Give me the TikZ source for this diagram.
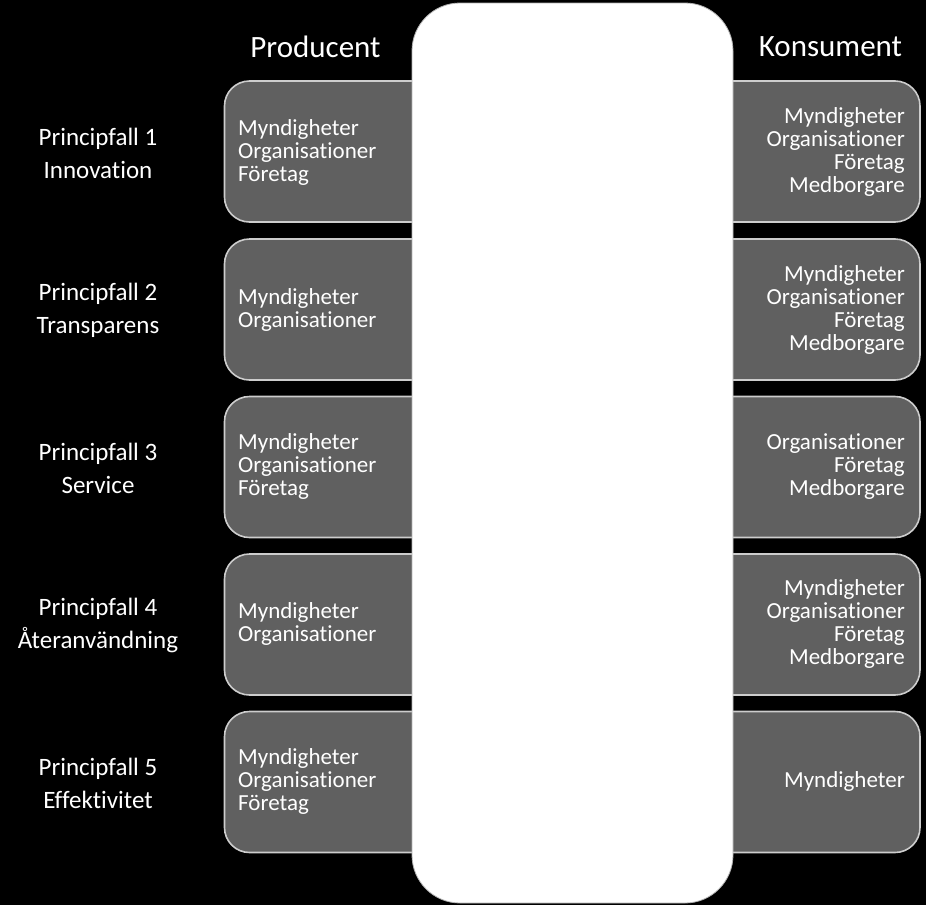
\documentclass[tikz,border=0pt]{standalone}
\usepackage{fontspec}
\setmainfont{Carlito}[Ligatures=NoCommon]
\definecolor{boxgray}{RGB}{96,96,96}
\definecolor{edgegray}{RGB}{205,205,205}
\begin{document}
\begin{tikzpicture}[x=1pt,y=-1pt,
  rowbox/.style={draw=edgegray, line width=1.6pt, fill=boxgray, rounded corners=25pt,
    minimum height=141pt, inner sep=0pt},
  lbox/.style={rowbox, minimum width=235pt},
  rbox/.style={rowbox, minimum width=229pt},
  column/.style={draw=gray!60, line width=0.8pt, fill=white, rounded corners=48pt,
    minimum width=321pt, minimum height=900pt, inner sep=0pt},
  boxtext/.style={text=white, inner sep=0pt, font=\fontsize{23}{23}\selectfont},
  ltext/.style={boxtext, anchor=west, align=left},
  rtext/.style={boxtext, anchor=east, align=right},
  caselabel/.style={text=white, inner sep=0pt, align=center, font=\fontsize{25}{33}\selectfont},
  heading/.style={text=white, inner sep=0pt, font=\fontsize{31}{34}\selectfont}]
\fill[black] (0,0) rectangle (926,905);
\useasboundingbox (0,0) rectangle (926,905);

% row boxes
\node[lbox] (L1) at (342,151.5) {};
\node[lbox] (L2) at (342,309.5) {};
\node[lbox] (L3) at (342,467) {};
\node[lbox] (L4) at (342,624.5) {};
\node[lbox] (L5) at (342,782) {};
\node[rbox] (R1) at (805.5,151.5) {};
\node[rbox] (R2) at (805.5,309.5) {};
\node[rbox] (R3) at (805.5,467) {};
\node[rbox] (R4) at (805.5,624.5) {};
\node[rbox] (R5) at (805.5,782) {};

% central column
\node[column] (C) at (572.5,453) {};

% headings
\node[heading] (hp) at (315.5,47) {Producent};
\node[heading] (hk) at (830.5,47) {Konsument};

% left labels
\node[caselabel] (P1) at (98,153) {Principfall 1\\Innovation};
\node[caselabel] (P2) at (98,310.5) {Principfall 2\\Transparens};
\node[caselabel] (P3) at (98,468) {Principfall 3\\Service};
\node[caselabel] (P4) at (98,625.5) {Principfall 4\\Återanvändning};
\node[caselabel] (P5) at (98,783) {Principfall 5\\Effektivitet};

% producer texts
\node[ltext] (LT1) at (238,152) {Myndigheter\\Organisationer\\Företag};
\node[ltext] (LT2) at (238,309.5) {Myndigheter\\Organisationer};
\node[ltext] (LT3) at (238,466.5) {Myndigheter\\Organisationer\\Företag};
\node[ltext] (LT4) at (238,623.5) {Myndigheter\\Organisationer};
\node[ltext] (LT5) at (238,781.5) {Myndigheter\\Organisationer\\Företag};

% consumer texts
\node[rtext] (RT1) at (905,152) {Myndigheter\\Organisationer\\Företag\\Medborgare};
\node[rtext] (RT2) at (905,309.5) {Myndigheter\\Organisationer\\Företag\\Medborgare};
\node[rtext] (RT3) at (905,466.5) {Organisationer\\Företag\\Medborgare};
\node[rtext] (RT4) at (905,623.5) {Myndigheter\\Organisationer\\Företag\\Medborgare};
\node[rtext] (RT5) at (905,781.5) {Myndigheter};
\end{tikzpicture}
\end{document}
